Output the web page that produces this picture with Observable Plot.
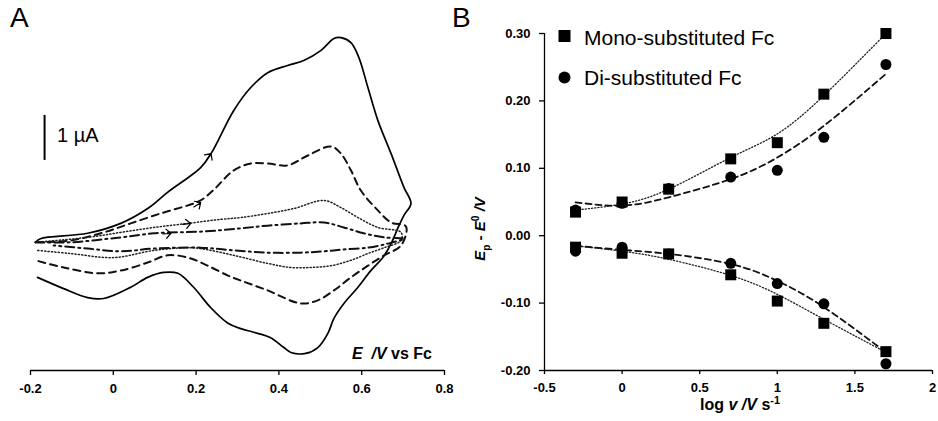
<!DOCTYPE html>
<html>
<head>
<meta charset="utf-8">
<script src="https://cdn.jsdelivr.net/npm/d3@7"></script>
<script src="https://cdn.jsdelivr.net/npm/@observablehq/plot@0.6"></script>
<style>
  body { margin: 0; background: #fff; font-family: "Liberation Sans", Arial, sans-serif; }
  #wrap { position: relative; width: 938px; height: 421px; overflow: hidden; background: #fff; }
  #panelA { position: absolute; left: 0; top: 0; }
  #panelB { position: absolute; left: 470px; top: 0; }
  svg { overflow: visible; }
</style>
</head>
<body>
<div id="wrap"><div id="panelA"></div><div id="panelB"></div></div>
<script>
// ---------- Panel A: cyclic voltammograms (E / V vs Fc, current / µA, arbitrary zero) ----------
const aTicks = [-0.2, 0, 0.2, 0.4, 0.6, 0.8];

const solidE = [-0.188,-0.176,-0.062,0.018,0.083,0.131,0.211,0.236,0.291,0.332,0.373,0.421,0.460,0.501,0.533,0.550,0.574,0.593,0.615,0.639,0.671,0.702,0.719,
  0.702,0.688,0.671,0.651,0.622,0.591,0.557,0.533,0.518,0.494,0.465,0.429,0.412,0.380,0.339,0.308,0.277,0.235,0.194,0.156,0.122,0.083,0.042,-0.023,-0.062,-0.120,-0.183];
const solidI = [-0.04,0.04,0.16,0.38,0.71,1.07,1.62,1.93,2.89,3.40,3.73,3.89,4.00,4.22,4.49,4.51,4.40,4.07,3.40,2.67,1.93,1.18,0.82,
  0.56,0.29,-0.07,-0.38,-0.67,-1.04,-1.40,-1.73,-2.07,-2.38,-2.51,-2.49,-2.38,-2.16,-2.04,-1.96,-1.84,-1.49,-1.04,-0.73,-0.71,-0.82,-1.04,-1.29,-1.27,-1.07,-0.82];

const dashedE = [-0.188,-0.103,-0.023,0.042,0.114,0.180,0.211,0.243,0.291,0.332,0.373,0.421,0.470,0.526,0.550,0.574,0.598,0.639,0.671,0.707,
  0.695,0.654,0.615,0.574,0.533,0.494,0.453,0.373,0.308,0.277,0.228,0.180,0.131,0.083,0.018,-0.038,-0.120,-0.188];
const dashedI = [-0.04,0.00,0.18,0.38,0.60,0.78,0.89,1.13,1.56,1.71,1.71,1.67,1.89,2.09,1.93,1.56,1.11,0.67,0.40,0.31,
  -0.11,-0.33,-0.56,-0.82,-1.11,-1.33,-1.40,-1.11,-0.89,-0.78,-0.56,-0.38,-0.33,-0.49,-0.67,-0.73,-0.60,-0.44];

const dottedE = [-0.188,-0.062,0.018,0.098,0.180,0.260,0.308,0.373,0.436,0.509,0.550,0.591,0.639,0.695,
  0.695,0.654,0.615,0.574,0.526,0.477,0.429,0.373,0.291,0.211,0.180,0.098,0.001,-0.103,-0.183];
const dottedI = [-0.04,0.07,0.18,0.29,0.38,0.47,0.51,0.60,0.71,0.89,0.73,0.51,0.29,0.18,
  0.00,-0.16,-0.29,-0.44,-0.56,-0.60,-0.60,-0.51,-0.33,-0.18,-0.16,-0.22,-0.38,-0.29,-0.22];

const dashDotE = [-0.188,-0.103,0.018,0.098,0.218,0.308,0.373,0.453,0.509,0.557,0.605,0.654,0.702,
  0.663,0.615,0.557,0.509,0.453,0.373,0.291,0.211,0.098,0.018,-0.062,-0.144];
const dashDotI = [-0.04,-0.04,0.07,0.16,0.20,0.27,0.33,0.38,0.40,0.29,0.16,0.07,0.04,
  -0.07,-0.16,-0.20,-0.24,-0.27,-0.27,-0.22,-0.16,-0.18,-0.24,-0.18,-0.11];

// scan-direction arrowheads on the forward scans
const arrowE = [0.236, 0.211, 0.187, 0.139];
const arrowI = [1.93, 0.84, 0.38, 0.16];
const arrowAngle = [35, 58, 83, 85];

// 1 µA scale bar
const scaleBarE = [-0.166];
const scaleBarLow = [1.78];
const scaleBarHigh = [2.78];

// ---------- Panel B: peak potential shift vs log scan rate ----------
const bXTicks = [-0.5, 0, 0.5, 1, 1.5, 2];
const bYTicks = [-0.2, -0.1, 0, 0.1, 0.2, 0.3];
const logv = [-0.3, 0, 0.3, 0.7, 1.0, 1.3, 1.7];
const monoOx  = [0.035, 0.050, 0.069, 0.114, 0.138, 0.210, 0.300];
const monoRed = [-0.017, -0.026, -0.027, -0.058, -0.097, -0.130, -0.172];
const diOx    = [0.038, 0.048, 0.070, 0.087, 0.097, 0.146, 0.254];
const diRed   = [-0.023, -0.017, -0.027, -0.041, -0.071, -0.101, -0.190];
// trend lines
const monoOxFit  = [0.038, 0.047, 0.069, 0.116, 0.151, 0.208, 0.300];
const monoRedFit = [-0.015, -0.023, -0.035, -0.059, -0.087, -0.124, -0.173];
const diOxFit    = [0.0495, 0.0446, 0.057, 0.084, 0.116, 0.163, 0.240];
const diRedFit   = [-0.015, -0.021, -0.027, -0.042, -0.067, -0.106, -0.173];

// ---------- build tables ----------
const cv = (E, I) => E.map((e, k) => ({E: e, I: I[k]}));
const solid = cv(solidE, solidI), dashed = cv(dashedE, dashedI), dotted = cv(dottedE, dottedI), dashDot = cv(dashDotE, dashDotI);
const arrows = arrowE.map((e, k) => ({E: e, I: arrowI[k], a: arrowAngle[k]}));
const scaleBar = scaleBarE.map((e, k) => ({E: e, lo: scaleBarLow[k], hi: scaleBarHigh[k]}));
const pts = (ys) => logv.map((x, k) => ({x, y: ys[k]}));

const FONT = '"Liberation Sans", Arial, sans-serif';

const plotA = Plot.plot({
  width: 470, height: 421,
  marginLeft: 30, marginRight: 26, marginTop: 20, marginBottom: 51,
  style: {fontFamily: FONT, fontSize: "13px", fontWeight: "bold", background: "white", overflow: "visible"},
  x: {domain: [-0.2, 0.8]},
  y: {domain: [-2.89, 4.89], axis: null},
  marks: [
    Plot.ruleY([-2.89], {stroke: "#000", strokeWidth: 1.3}),
    Plot.axisX({ticks: aTicks, tickSize: 5, tickPadding: 8, tickFormat: d => String(d), label: null, strokeWidth: 1.3}),
    Plot.line(solid, {x: "E", y: "I", curve: "catmull-rom", stroke: "#000", strokeWidth: 1.7}),
    Plot.line(dashed, {x: "E", y: "I", curve: "catmull-rom", stroke: "#111", strokeWidth: 2, strokeDasharray: "7,5"}),
    Plot.line(dotted, {x: "E", y: "I", curve: "catmull-rom", stroke: "#222", strokeWidth: 1.5, strokeDasharray: "1.2,2.2"}),
    Plot.line(dashDot, {x: "E", y: "I", curve: "catmull-rom", stroke: "#111", strokeWidth: 2, strokeDasharray: "9,4,2,4"}),
    Plot.vector(arrows, {x: "E", y: "I", rotate: "a", length: 8, anchor: "end", shape: "arrow", r: 10, stroke: "#000", strokeWidth: 1.2}),
    Plot.ruleX(scaleBar, {x: "E", y1: "lo", y2: "hi", stroke: "#000", strokeWidth: 2})
  ]
});
document.getElementById("panelA").appendChild(plotA);

const plotB = Plot.plot({
  width: 468, height: 421,
  marginLeft: 74, marginRight: 6, marginTop: 33, marginBottom: 51,
  style: {fontFamily: FONT, fontSize: "13px", fontWeight: "bold", background: "white", overflow: "visible"},
  x: {domain: [-0.5, 2]},
  y: {domain: [-0.2, 0.3]},
  marks: [
    Plot.ruleX([-0.5], {stroke: "#000", strokeWidth: 1.3}),
    Plot.ruleY([-0.2], {stroke: "#000", strokeWidth: 1.3}),
    Plot.axisX({ticks: bXTicks, tickSize: 4, tickPadding: 8, tickFormat: d => String(d), label: null, strokeWidth: 1.3}),
    Plot.axisY({ticks: bYTicks, tickSize: 5, tickPadding: 9, tickFormat: d => d.toFixed(2), label: null, strokeWidth: 1.3}),
    Plot.line(pts(monoOxFit), {x: "x", y: "y", curve: "natural", stroke: "#222", strokeWidth: 1.3, strokeDasharray: "1.2,2"}),
    Plot.line(pts(monoRedFit), {x: "x", y: "y", curve: "natural", stroke: "#222", strokeWidth: 1.3, strokeDasharray: "1.2,2"}),
    Plot.line(pts(diOxFit), {x: "x", y: "y", curve: "natural", stroke: "#111", strokeWidth: 1.8, strokeDasharray: "6,4"}),
    Plot.line(pts(diRedFit), {x: "x", y: "y", curve: "natural", stroke: "#111", strokeWidth: 1.8, strokeDasharray: "6,4"}),
    Plot.dot(pts(diOx), {x: "x", y: "y", r: 5.5, fill: "#000", stroke: "none"}),
    Plot.dot(pts(diRed), {x: "x", y: "y", r: 5.5, fill: "#000", stroke: "none"}),
    Plot.dot(pts(monoOx), {x: "x", y: "y", symbol: "square", r: 6.2, fill: "#000", stroke: "none"}),
    Plot.dot(pts(monoRed), {x: "x", y: "y", symbol: "square", r: 6.2, fill: "#000", stroke: "none"})
  ]
});
document.getElementById("panelB").appendChild(plotB);

// ---------- annotation texts ----------
function rich(svg, x, y, parts, {anchor = "start", size = 14, weight = "bold", rotate = 0} = {}) {
  const t = d3.select(svg).append("text")
    .attr("x", x).attr("y", y)
    .attr("text-anchor", anchor)
    .attr("font-family", FONT)
    .attr("font-size", size)
    .attr("font-weight", weight)
    .attr("fill", "#000");
  if (rotate) t.attr("transform", `rotate(${rotate},${x},${y})`);
  let shift = 0;
  for (const p of parts) {
    const s = t.append("tspan").text(p.t);
    if (p.i) s.attr("font-style", "italic");
    if (p.w) s.attr("font-weight", p.w);
    let target = 0;
    if (p.sub) target = size * 0.3;
    if (p.sup) target = -size * 0.38;
    if (p.sub || p.sup) s.attr("font-size", size * 0.68);
    if (target !== shift) { s.attr("dy", target - shift); shift = target; }
  }
  return t;
}

rich(plotA, 10, 27, [{t: "A"}], {size: 28, weight: "normal"});
rich(plotA, 452, 27, [{t: "B"}], {size: 28, weight: "normal"});
rich(plotA, 57, 142, [{t: "1 µA"}], {size: 20, weight: "normal"});
rich(plotA, 432, 359, [{t: "E", i: true}, {t: "  /V", i: true}, {t: " vs Fc"}], {anchor: "end", size: 16});

// legend
const lg = d3.select(plotB).append("g");
lg.append("rect").attr("x", 88.5).attr("y", 30).attr("width", 12).attr("height", 12).attr("fill", "#000");
lg.append("circle").attr("cx", 94.5).attr("cy", 77.5).attr("r", 6).attr("fill", "#000");
rich(plotB, 114, 45, [{t: "Mono-substituted Fc"}], {size: 21, weight: "normal"});
rich(plotB, 114, 85, [{t: "Di-substituted Fc"}], {size: 21, weight: "normal"});

// axis titles for B
rich(plotB, 270, 410, [{t: "log "}, {t: "v", i: true}, {t: " /V", i: true}, {t: " s"}, {t: "-1", sup: true}], {anchor: "middle", size: 16});
rich(plotB, 15, 229, [{t: "E", i: true}, {t: "p", sub: true}, {t: " - "}, {t: "E", i: true}, {t: "0", sup: true}, {t: " /V", i: true}], {anchor: "middle", size: 15, rotate: -90});
</script>
</body>
</html>
